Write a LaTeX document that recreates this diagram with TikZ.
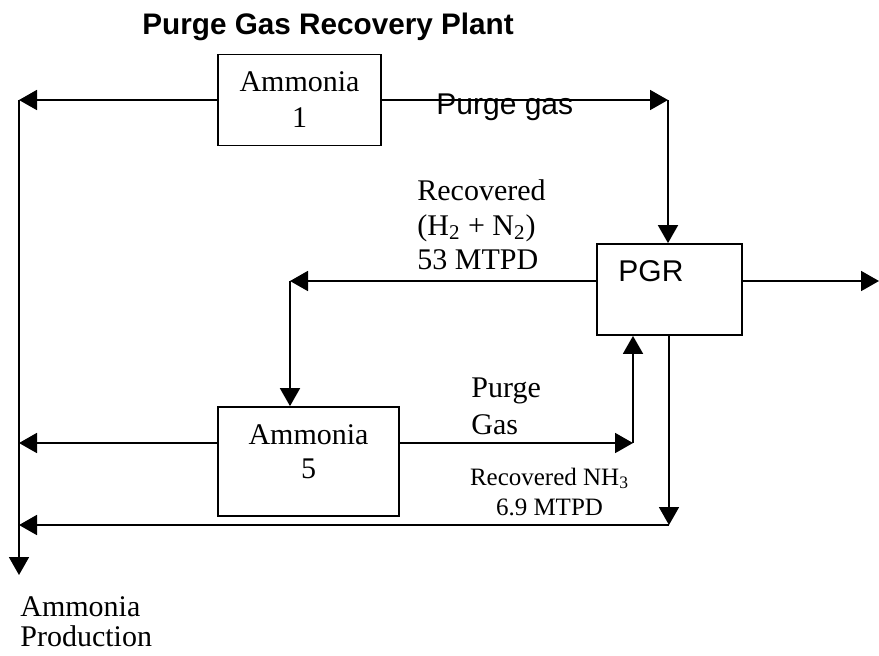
\documentclass[tikz,border=0pt]{standalone}
\usepackage{fontspec}
\setmainfont{Liberation Serif}
\setsansfont{Liberation Sans}
\usetikzlibrary{arrows.meta,positioning}

\tikzset{
  unit/.style={draw, line width=0.9pt, inner sep=0pt},
  flow/.style={line width=0.9pt, -{Triangle[length=9pt,width=10pt]}},
  lbl/.style={inner sep=0pt, font=\fontsize{15}{17.5}\selectfont},
  slbl/.style={inner sep=0pt, font=\sffamily\fontsize{15}{17.5}\selectfont},
}

\begin{document}
\begin{tikzpicture}[x=0.5pt,y=-0.5pt]
\useasboundingbox (0,0) rectangle (879,655);

% Title
\node[anchor=base west, inner sep=0pt, font=\sffamily\bfseries\fontsize{14.85}{18}\selectfont] (title) at (142,34) {Purge Gas Recovery Plant};

% Units
\node[unit, minimum width=81.5pt, minimum height=45.5pt] (amm1) at (299.5,100) {};
\node[unit, minimum width=72.5pt, minimum height=45.5pt] (pgr) at (669.5,289.5) {};
\node[unit, minimum width=90.5pt, minimum height=54.5pt] (amm5) at (308.5,461.5) {};

\node[lbl, align=center, anchor=north, font=\fontsize{15}{18}\selectfont] (amm1txt) at (299.5,71.5) {Ammonia\\1};
\node[slbl, anchor=north west] (pgrtxt) at (618,260) {PGR};
\node[lbl, align=center, anchor=north, font=\fontsize{15}{17}\selectfont] (amm5txt) at (308.5,424.5) {Ammonia\\5};

% Corners and free ends
\coordinate (west1) at (19,100);
\coordinate (east1) at (668,100);
\coordinate (rec) at (290,281);
\coordinate (out) at (879,281);
\coordinate (west5) at (19,443);
\coordinate (east5) at (633,443);
\coordinate (nh3) at (669,525);
\coordinate (west6) at (19,525);
\coordinate (prod) at (19,575);

% Streams
\draw[flow] (amm1.west) -- (west1);
\draw[flow] (west1) -- (prod);
\draw[flow] (amm1.east) -- (east1);
\draw[flow] (east1) -- (pgr.north -| east1);
\draw[flow] (pgr.west |- rec) -- (rec);
\draw[flow] (rec) -- (amm5.north -| rec);
\draw[flow] (pgr.east |- rec) -- (out);
\draw[flow] (amm5.west |- west5) -- (west5);
\draw[flow] (amm5.east |- east5) -- (east5);
\draw[flow] (east5) -- (pgr.south -| east5);
\draw[flow] (pgr.south -| nh3) -- (nh3);
\draw[flow] (nh3) -- (west6);

% Stream labels
\node[slbl, anchor=base west] (purge1) at (436,114) {Purge gas};
\node[lbl, align=left, anchor=north west, font=\fontsize{15}{17.25}\selectfont] (h2n2) at (417,179.5) {Recovered\\(H\textsubscript{2} + N\textsubscript{2})\\53 MTPD};
\node[lbl, align=left, anchor=north west, font=\fontsize{15}{18.5}\selectfont] (purge5) at (471,377) {Purge\\Gas};
\node[lbl, align=center, anchor=north, font=\fontsize{12.5}{15}\selectfont] (nh3txt) at (549.5,467.5) {Recovered NH\textsubscript{3}\\6.9 MTPD};
\node[lbl, align=left, anchor=north west, font=\fontsize{15}{15}\selectfont] (prodtxt) at (20,596.5) {Ammonia\\Production};

\end{tikzpicture}
\end{document}
